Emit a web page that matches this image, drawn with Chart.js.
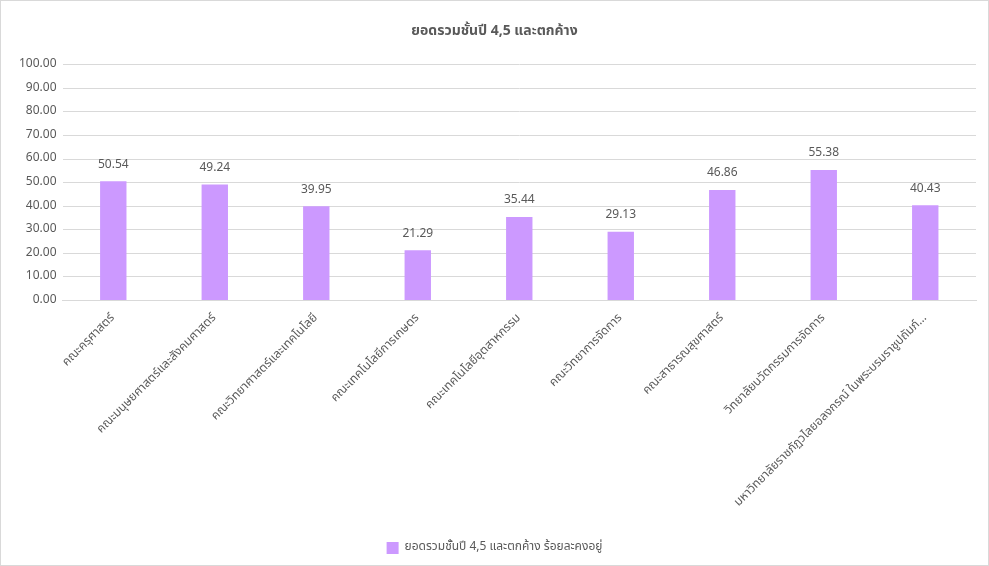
<!DOCTYPE html>
<html>
<head>
<meta charset="utf-8">
<script src="https://cdn.jsdelivr.net/npm/chart.js@4"></script>
<style>
html,body{margin:0;padding:0;background:#fff;}
#wrap{position:relative;width:987px;height:564px;border:1px solid #D9D9D9;}
</style>
</head>
<body>
<div id="wrap"><canvas id="c"></canvas></div>
<script>
const labels = [
  "คณะครุศาสตร์",
  "คณะมนุษยศาสตร์และสังคมศาสตร์",
  "คณะวิทยาศาสตร์และเทคโนโลยี",
  "คณะเทคโนโลยีการเกษตร",
  "คณะเทคโนโลยีอุตสาหกรรม",
  "คณะวิทยาการจัดการ",
  "คณะสาธารณสุขศาสตร์",
  "วิทยาลัยนวัตกรรมการจัดการ",
  "มหาวิทยาลัยราชภัฏวไลยอลงกรณ์ ในพระบรมราชูปถัมภ์..."
];
const values = [50.54, 49.24, 39.95, 21.29, 35.44, 29.13, 46.86, 55.38, 40.43];
const titleText = "ยอดรวมชั้นปี 4,5 และตกค้าง";
const seriesName = "ยอดรวมชั้นปี 4,5 และตกค้าง ร้อยละคงอยู่";

const FONT = '"Noto Sans Thai","Leelawadee UI","Segoe UI","Noto Sans",sans-serif';
const GREY = "#595959";

const valueLabels = {
  id: "valueLabels",
  afterDatasetsDraw(chart){
    const ctx = chart.ctx;
    ctx.save();
    ctx.font = "12px " + FONT;
    ctx.fillStyle = GREY;
    ctx.textAlign = "center";
    ctx.textBaseline = "bottom";
    chart.getDatasetMeta(0).data.forEach((bar, i) => {
      ctx.fillText(values[i].toFixed(2), bar.x, bar.y - 10);
    });
    ctx.restore();
  }
};

new Chart(document.getElementById("c"), {
  type: "bar",
  data: {labels, datasets: [{
    label: seriesName, data: values,
    backgroundColor: "#CC99FF", borderWidth: 0,
    categoryPercentage: 1, barPercentage: 0.26
  }]},
  options: {
    responsive: true, maintainAspectRatio: false, animation: false,
    layout: {padding: {left: 12, right: 12, top: 4, bottom: 1}},
    plugins: {
      title: {display: true, text: titleText, color: GREY, font: {family: FONT, size: 14, weight: "bold"}, padding: {top: 19, bottom: 24}},
      legend: {position: "bottom", labels: {color: GREY, font: {family: FONT, size: 12}, boxWidth: 12, boxHeight: 12, padding: 10}},
      tooltip: {enabled: false}
    },
    scales: {
      y: {
        min: 0, max: 100,
        ticks: {stepSize: 10, color: GREY, font: {family: FONT, size: 12}, callback: v => v.toFixed(2), padding: 6},
        grid: {color: "#D9D9D9", drawTicks: false},
        border: {display: false}
      },
      x: {
        ticks: {color: GREY, font: {family: FONT, size: 12}, minRotation: 45, maxRotation: 45, autoSkip: false},
        grid: {display: false},
        border: {color: "#D9D9D9"},
        afterFit(scale){ scale.height += 19; }
      }
    }
  },
  plugins: [valueLabels]
});
</script>
</body>
</html>
